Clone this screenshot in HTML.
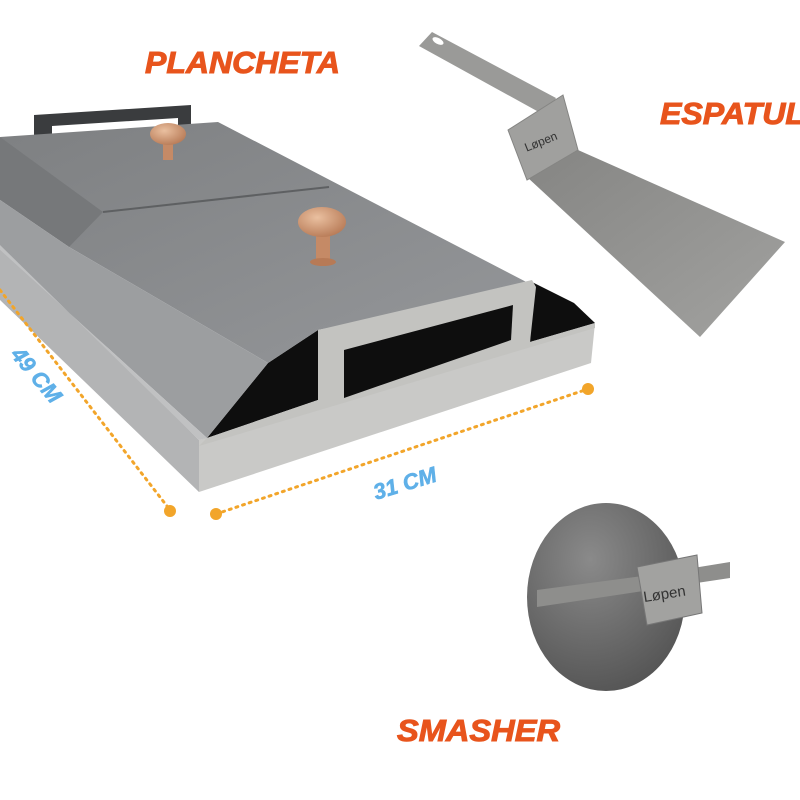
<!DOCTYPE html>
<html><head><meta charset="utf-8"><style>
html,body{margin:0;padding:0;background:#fff;width:800px;height:800px;overflow:hidden}
svg{display:block}
.t{font-family:"Liberation Sans",sans-serif;font-weight:bold;font-style:italic}
</style></head><body>
<svg width="800" height="800" viewBox="0 0 800 800" xmlns="http://www.w3.org/2000/svg">
<defs>
<linearGradient id="gTop" x1="0" y1="0" x2="1" y2="1"><stop offset="0" stop-color="#7e8082"/><stop offset="1" stop-color="#95979a"/></linearGradient>
<linearGradient id="gBlade" x1="0" y1="0" x2="1" y2="1"><stop offset="0" stop-color="#858583"/><stop offset="1" stop-color="#a2a2a0"/></linearGradient>
<radialGradient id="gDisc" cx="0.4" cy="0.3" r="0.8"><stop offset="0" stop-color="#8a8a8a"/><stop offset="1" stop-color="#505050"/></radialGradient>
<radialGradient id="gKnob" cx="0.4" cy="0.35" r="0.7"><stop offset="0" stop-color="#eac0a0"/><stop offset="1" stop-color="#b77a56"/></radialGradient>
</defs>

<text class="t" x="145" y="73" font-size="31" fill="#e8541c" stroke="#e8541c" stroke-width="1" textLength="195" lengthAdjust="spacingAndGlyphs">PLANCHETA</text>
<text class="t" x="660" y="124" font-size="31" fill="#e8541c" stroke="#e8541c" stroke-width="1" textLength="145" lengthAdjust="spacingAndGlyphs">ESPATUL</text>
<text class="t" x="397" y="741" font-size="31" fill="#e8541c" stroke="#e8541c" stroke-width="1" textLength="163" lengthAdjust="spacingAndGlyphs">SMASHER</text>

<!-- handle -->
<polygon points="34,115 191,105 191,135 178,135 178,118 52,126 52,140 34,140" fill="#3a3c3e"/>
<!-- tray left side & front -->
<polygon points="0,240 199,440 199,492 0,300" fill="#b3b4b5"/>
<polygon points="199,440 595,323 591,363 199,492" fill="#c9c9c7"/>
<!-- black interior -->
<polygon points="207,438 268,363 318,330 318,400" fill="#0e0e0e"/>
<polygon points="532,282 574,303 595,323 530,342" fill="#0e0e0e"/>
<!-- top flat -->
<polygon points="0,137 218,122 536,287 318,330 268,363 69,247" fill="url(#gTop)"/>
<line x1="103" y1="212" x2="329" y2="187" stroke="#5e6062" stroke-width="2"/>
<!-- left bevels -->
<polygon points="0,137 103,212 69,247 0,200" fill="#76787a"/>
<polygon points="69,247 268,363 207,438 0,250 0,200" fill="#9c9ea0"/>
<polygon points="0,250 207,438 199,440 0,245" fill="#c0c1c2"/>
<!-- tab -->
<polygon points="318,330 532,280 536,287 530,342 595,323 595,328 199,446 207,438 318,400" fill="#c3c3c0"/>
<polygon points="344,350 513,305 511,340 344,398" fill="#0e0e0e"/>
<!-- knobs -->
<rect x="163" y="140" width="10" height="20" fill="#c58a66"/>
<ellipse cx="168" cy="134" rx="18" ry="11" fill="url(#gKnob)"/>
<rect x="316" y="232" width="14" height="28" fill="#c58a66"/>
<ellipse cx="323" cy="262" rx="13" ry="4" fill="#b77a56"/>
<ellipse cx="322" cy="222" rx="24" ry="15" fill="url(#gKnob)"/>

<!-- dotted lines -->
<line x1="0" y1="290" x2="170" y2="510" stroke="#f2a52a" stroke-width="3" stroke-dasharray="2 5" stroke-linecap="round"/>
<circle cx="170" cy="511" r="6" fill="#f2a52a"/>
<line x1="216" y1="514" x2="588" y2="389" stroke="#f2a52a" stroke-width="3" stroke-dasharray="2 5" stroke-linecap="round"/>
<circle cx="216" cy="514" r="6" fill="#f2a52a"/>
<circle cx="588" cy="389" r="6" fill="#f2a52a"/>
<text class="t" font-size="22" fill="#5fb0e8" stroke="#5fb0e8" stroke-width="0.6" transform="translate(10,355) rotate(50)">49 CM</text>
<text class="t" font-size="22" fill="#5fb0e8" stroke="#5fb0e8" stroke-width="0.6" transform="translate(376,500) rotate(-17)">31 CM</text>

<!-- spatula -->
<polygon points="419,46 432,32 556,98 546,116" fill="#9a9a98"/>
<ellipse cx="438" cy="41" rx="6" ry="3" fill="#fff" transform="rotate(28 438 41)"/>
<polygon points="527,177 578,150 785,242 700,337" fill="url(#gBlade)"/>
<polygon points="508,130 563,95 578,150 527,180" fill="#a0a09e" stroke="#858583"/>
<text x="524" y="146" font-family="Liberation Sans,sans-serif" font-size="12" fill="#333" transform="rotate(-22 540 142)">Løpen</text>

<!-- smasher -->
<ellipse cx="606" cy="597" rx="79" ry="94" fill="url(#gDisc)"/>
<polygon points="537,590 650,575 730,562 730,578 650,590 537,607" fill="#8e8e8c"/>
<polygon points="637,567 697,555 702,613 647,625" fill="#a2a2a0" stroke="#767676"/>
<text x="643" y="598" font-family="Liberation Sans,sans-serif" font-size="15" fill="#333" transform="rotate(-9 670 592)">Løpen</text>
</svg>
</body></html>
